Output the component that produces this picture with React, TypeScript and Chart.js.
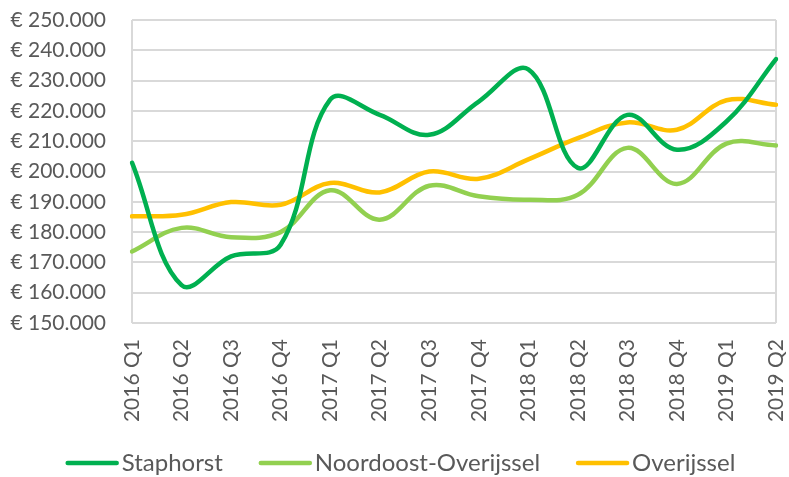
import React, { useEffect, useRef } from "react";
import { Chart, registerables } from "chart.js";

Chart.register(...registerables);

const categories = [
  "2016 Q1", "2016 Q2", "2016 Q3", "2016 Q4",
  "2017 Q1", "2017 Q2", "2017 Q3", "2017 Q4",
  "2018 Q1", "2018 Q2", "2018 Q3", "2018 Q4",
  "2019 Q1", "2019 Q2",
];

const staphorst = [202900, 162500, 172000, 175800, 223700, 218700, 212100, 223100, 233700, 201200, 218700, 207200, 216500, 237100];
const noordoostOverijssel = [173600, 181400, 178300, 180000, 193800, 184100, 195300, 191800, 190700, 192300, 207800, 195900, 209200, 208600];
const overijssel = [185200, 185700, 189900, 189000, 196200, 193100, 200000, 197600, 204000, 211000, 216200, 213800, 223500, 222000];

const seriesNames = ["Staphorst", "Noordoost-Overijssel", "Overijssel"];
const seriesColors = ["#00B050", "#92D050", "#FFC000"];

const yMin = 150000;
const yMax = 250000;
const yStep = 10000;

const FONT = "Lato, 'Open Sans', sans-serif";
const TEXT = "#595959";
const GRID = "#d9d9d9";

function fmt(v: number): string {
  return "€ " + Math.round(v).toString().replace(/\B(?=(\d{3})+(?!\d))/g, ".");
}

const legendPlugin = {
  id: "excelLegend",
  afterDraw(chart: any) {
    const ctx = chart.ctx as CanvasRenderingContext2D;
    ctx.save();
    ctx.font = `24px ${FONT}`;
    const lineW = 53;
    const gap = 3;
    const itemGap = 36;
    const items = chart.data.datasets.map((ds: any) => ({
      text: ds.label as string,
      color: ds.borderColor as string,
      w: ctx.measureText(ds.label).width,
    }));
    const total =
      items.reduce((s: number, it: any) => s + lineW + gap + it.w, 0) + itemGap * (items.length - 1);
    let x = chart.width / 2 + 6 - total / 2;
    const y = 463;
    ctx.textBaseline = "middle";
    ctx.textAlign = "left";
    for (const it of items) {
      ctx.strokeStyle = it.color;
      ctx.lineWidth = 4.5;
      ctx.lineCap = "round";
      ctx.beginPath();
      ctx.moveTo(x + 2, y);
      ctx.lineTo(x + lineW - 2, y);
      ctx.stroke();
      ctx.fillStyle = TEXT;
      ctx.fillText(it.text, x + lineW + gap, y);
      x += lineW + gap + it.w + itemGap;
    }
    ctx.restore();
  },
};

export default function App() {
  const ref = useRef<HTMLCanvasElement | null>(null);
  useEffect(() => {
    if (!ref.current) return;
    const values = [staphorst, noordoostOverijssel, overijssel];
    const chart = new Chart(ref.current, {
      type: "line",
      data: {
        labels: categories,
        datasets: values.map((d, i) => ({
          label: seriesNames[i],
          data: d,
          borderColor: seriesColors[i],
          backgroundColor: seriesColors[i],
          borderWidth: 4.5,
          borderCapStyle: "round",
          borderJoinStyle: "round",
          pointRadius: 0,
          tension: 0.38,
          fill: false,
        })),
      },
      plugins: [legendPlugin],
      options: {
        animation: false,
        responsive: false,
        maintainAspectRatio: false,
        layout: { padding: { left: 0, right: 13, top: 20, bottom: 54 } },
        plugins: {
          legend: { display: false },
          tooltip: { enabled: false },
        },
        scales: {
          x: {
            offset: false,
            grid: {
              drawTicks: false,
              lineWidth: 2,
              color: (ctx: any) =>
                ctx.index === 0 || ctx.index === categories.length - 1 ? GRID : "rgba(0,0,0,0)",
            },
            border: { display: false },
            ticks: {
              color: TEXT,
              font: { family: FONT, size: 21 },
              maxRotation: 90,
              minRotation: 90,
              padding: 16,
              autoSkip: false,
            },
            afterFit: (s: any) => {
              s.height = 100;
              s.paddingLeft = 0;
              s.paddingRight = 0;
            },
          },
          y: {
            min: yMin,
            max: yMax,
            grid: { drawTicks: false, color: GRID, lineWidth: 2 },
            border: { display: false },
            ticks: {
              stepSize: yStep,
              autoSkip: false,
              color: TEXT,
              font: { family: FONT, size: 21 },
              padding: 26,
              callback: (v: any) => fmt(Number(v)),
            },
            afterFit: (s: any) => {
              s.width = 132;
              s.paddingTop = 0;
              s.paddingBottom = 0;
            },
          },
        },
      },
    });
    return () => chart.destroy();
  }, []);
  return (
    <div style={{ position: "fixed", left: 0, top: 0, width: 789, height: 477, background: "#fff" }}>
      <canvas ref={ref} width={789} height={477} style={{ display: "block" }} />
    </div>
  );
}
